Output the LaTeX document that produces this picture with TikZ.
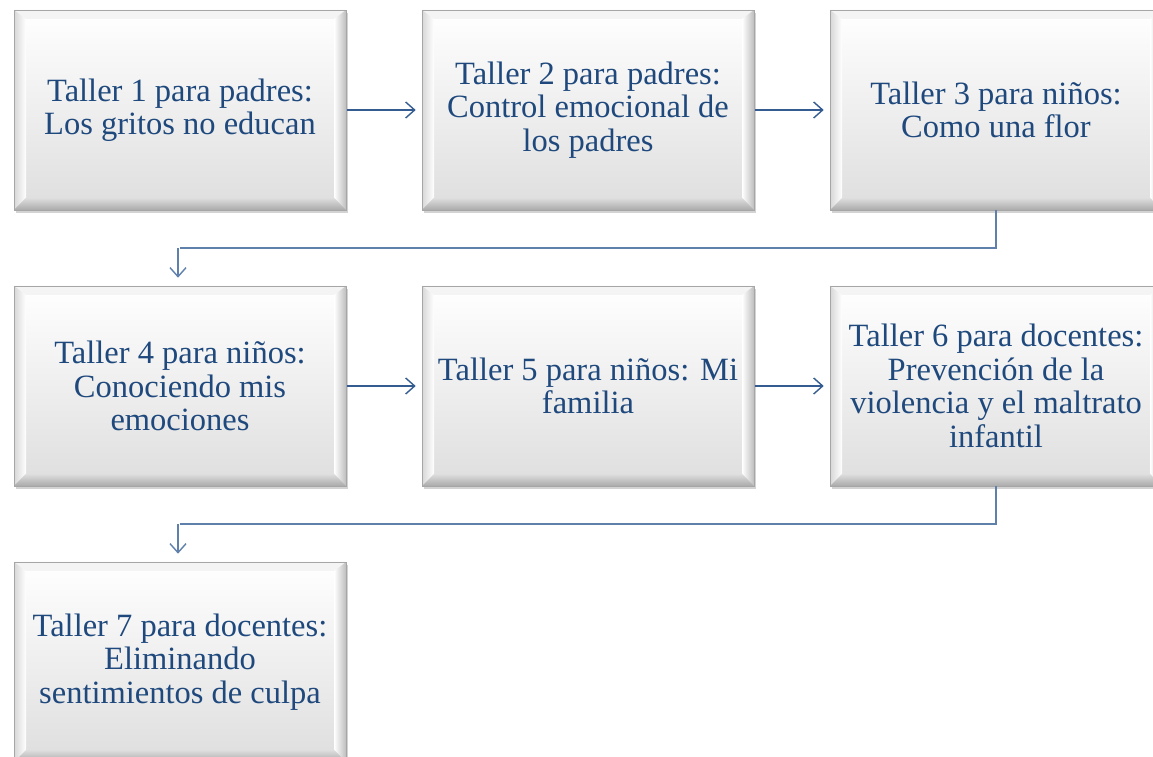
\documentclass[tikz,border=0pt]{standalone}
\usepackage{fontspec}
\setmainfont{Liberation Serif}
\usetikzlibrary{arrows.meta,shadows,calc}
\definecolor{txtblue}{RGB}{31,73,125}
\definecolor{arrblue}{RGB}{52,92,145}
\definecolor{elbblue}{RGB}{96,128,172}
\definecolor{bevtop}{RGB}{244,244,244}
\definecolor{bevleft}{RGB}{215,215,215}
\definecolor{bevright}{RGB}{190,190,190}
\definecolor{bevbot}{RGB}{170,170,170}
\definecolor{facebot}{RGB}{222,222,222}
\tikzset{
  x=1pt,y=1pt,
  bevbox/.style={
    rectangle, minimum width=332pt, minimum height=200pt, inner sep=0pt,
    draw=gray!70, line width=0.6pt,
    drop shadow={opacity=0.35, shadow xshift=2pt, shadow yshift=-3pt},
    font=\fontsize{32.5}{33.5}\selectfont, text=txtblue, align=center,
    path picture={
      \coordinate (NW) at (path picture bounding box.north west);
      \coordinate (NE) at (path picture bounding box.north east);
      \coordinate (SW) at (path picture bounding box.south west);
      \coordinate (SE) at (path picture bounding box.south east);
      \shade[top color=white, bottom color=facebot] (NW) rectangle (SE);
      \fill[bevtop] (NW) -- (NE) -- ($(NE)+(-12,-9)$) -- ($(NW)+(12,-9)$) -- cycle;
      \shade[left color=bevleft, right color=white] (NW) -- ($(NW)+(12,-9)$) -- ($(SW)+(12,12)$) -- (SW) -- cycle;
      \shade[left color=white, right color=bevright] (NE) -- ($(NE)+(-12,-9)$) -- ($(SE)+(-12,12)$) -- (SE) -- cycle;
      \shade[top color=facebot, bottom color=bevbot] (SW) -- ($(SW)+(12,12)$) -- ($(SE)+(-12,12)$) -- (SE) -- cycle;
    }
  },
  flowarrow/.style={draw=arrblue, line width=1.6pt, -{Straight Barb[length=9pt,width=16pt,line width=1.4pt]}},
  elbarrow/.style={draw=elbblue, line width=1.8pt, -{Straight Barb[length=9pt,width=16pt,line width=1.4pt]}}
}
\begin{document}
\begin{tikzpicture}
\useasboundingbox (0,0) rectangle (1153,757);
\node[bevbox] (t1) at (180,647) {Taller 1 para padres:\\Los gritos no educan};
\node[bevbox] (t2) at (588,647) {Taller 2 para padres:\\Control emocional de\\los padres};
\node[bevbox] (t3) at (996,647) {Taller 3 para niños:\\Como una flor};
\node[bevbox] (t4) at (180,371) {Taller 4 para niños:\\Conociendo mis\\emociones};
\node[bevbox] (t5) at (588,371) {Taller 5 para niños: Mi\\familia};
\node[bevbox] (t6) at (996,371) {Taller 6 para docentes:\\Prevención de la\\violencia y el maltrato\\infantil};
\node[bevbox] (t7) at (180,95) {Taller 7 para docentes:\\Eliminando\\sentimientos de culpa};
\draw[flowarrow] (t1.east) ++(1,0) -- ($(t2.west)+(-6,0)$);
\draw[flowarrow] (t2.east) ++(1,0) -- ($(t3.west)+(-6,0)$);
\draw[flowarrow] (t4.east) ++(1,0) -- ($(t5.west)+(-6,0)$);
\draw[flowarrow] (t5.east) ++(1,0) -- ($(t6.west)+(-6,0)$);
\coordinate (e1) at ($(t3.south)+(0,-38)$);
\coordinate (e2) at ($(t6.south)+(0,-38)$);
\draw[elbarrow] (t3.south) -- (e1) -- (e1 -| t4.north) ++(-2,0) -- ($(t4.north)+(-2,8)$);
\draw[elbarrow] (t6.south) -- (e2) -- (e2 -| t7.north) ++(-2,0) -- ($(t7.north)+(-2,8)$);
\end{tikzpicture}
\end{document}
